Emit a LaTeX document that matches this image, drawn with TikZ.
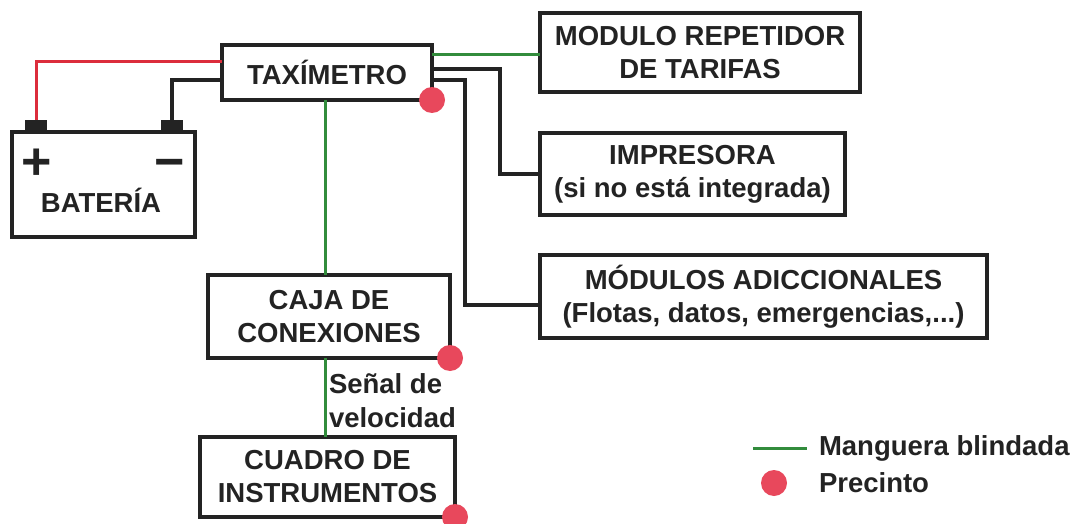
\documentclass[tikz,border=0pt]{standalone}
\usepackage{fontspec}
\setmainfont{Liberation Sans}
\definecolor{wgreen}{RGB}{50,140,60}
\definecolor{wred}{RGB}{220,45,60}
\definecolor{seal}{RGB}{232,72,92}
\definecolor{ink}{RGB}{35,35,35}
\newcommand\bigf{\fontsize{27.5}{33}\selectfont\bfseries}
\newcommand\signf{\fontsize{52}{52}\selectfont\bfseries}
\begin{document}
\begin{tikzpicture}[x=1pt,y=-1pt,
  box/.style={draw=ink, line width=4pt, fill=white, inner sep=0pt, outer sep=0pt,
    align=center, font=\bigf, text=ink},
  lbl/.style={inner sep=0pt, outer sep=0pt, font=\bigf, text=ink},
  sign/.style={inner sep=0pt, outer sep=0pt, font=\signf, text=ink, anchor=base},
  term/.style={fill=ink, draw=none, inner sep=0pt, minimum width=22pt, minimum height=12pt},
  blackwire/.style={draw=ink, line width=4pt},
  greenwire/.style={draw=wgreen, line width=3pt},
  redwire/.style={draw=wred, line width=3pt},
  sealdot/.style={circle, fill=seal, draw=none, inner sep=0pt, minimum size=26pt}]
\useasboundingbox[fill=white] (0,0) rectangle (1084,524);
% helper coordinates
\coordinate (y55) at (0,55);
\coordinate (y62) at (0,62);
\coordinate (y69) at (0,69);
\coordinate (y80) at (0,80);
\coordinate (y305) at (0,305);
\coordinate (x325) at (325,0);
\coordinate (x465) at (465,0);
\coordinate (x500) at (500,0);
% boxes
\node[box, minimum width=210pt, minimum height=55pt] (tax) at (327,72.5) {TAXÍMETRO};
\node[box, minimum width=183pt, minimum height=105pt] (bat) at (103.5,184.5) {};
\node[term, anchor=south] (tp) at (36,132) {};
\node[term, anchor=south] (tm) at (172,132) {};
\node[sign] (plus) at (37,179) {+};
\node[sign] (minus) at (170,179) {−};
\node[lbl] (batl) at (101,200) {BATERÍA};
\node[box, minimum width=320pt, minimum height=79pt] (mod) at (700,52.5) {MODULO REPETIDOR\\DE TARIFAS};
\node[box, minimum width=305pt, minimum height=82pt] (imp) at (692.5,174) {IMPRESORA\\(si no está integrada)};
\node[box, minimum width=447pt, minimum height=83pt] (ad) at (763.5,296.5) {MÓDULOS ADICCIONALES\\(Flotas, datos, emergencias,...)};
\node[box, minimum width=242pt, minimum height=83pt] (caja) at (329,316.5) {CAJA DE\\CONEXIONES};
\node[box, minimum width=255pt, minimum height=80pt] (cuadro) at (327.5,477) {CUADRO DE\\INSTRUMENTOS};
% wires
\draw[redwire] (tp.north) |- (tax.west |- y62);
\draw[blackwire] (tm.north) |- (tax.west |- y80);
\draw[greenwire] (tax.east |- y55) -- (mod.west |- y55);
\draw[blackwire] (tax.east |- y69) -| (imp.west -| x500) -- (imp.west);
\draw[blackwire] (tax.east |- y80) -| (x465 |- y305) -- (ad.west |- y305);
\draw[greenwire] (tax.south -| x325) -- (caja.north -| x325);
\draw[greenwire] (caja.south -| x325) -- (cuadro.north -| x325);
\node[lbl, anchor=base west] (sen1) at (329,393) {Señal de};
\node[lbl, anchor=base west] (sen2) at (329,427) {velocidad};
% seals
\node[sealdot] (s1) at (tax.south east) {};
\node[sealdot] (s2) at (caja.south east) {};
\node[sealdot] (s3) at (cuadro.south east) {};
% legend
\coordinate (lg1) at (753,448);
\coordinate (lg2) at (807,448);
\draw[greenwire] (lg1) -- (lg2);
\node[lbl, anchor=base west] (lgt1) at (819,455) {Manguera blindada};
\node[sealdot] (lgd) at (774,483) {};
\node[lbl, anchor=base west] (lgt2) at (819,492) {Precinto};
\end{tikzpicture}
\end{document}
